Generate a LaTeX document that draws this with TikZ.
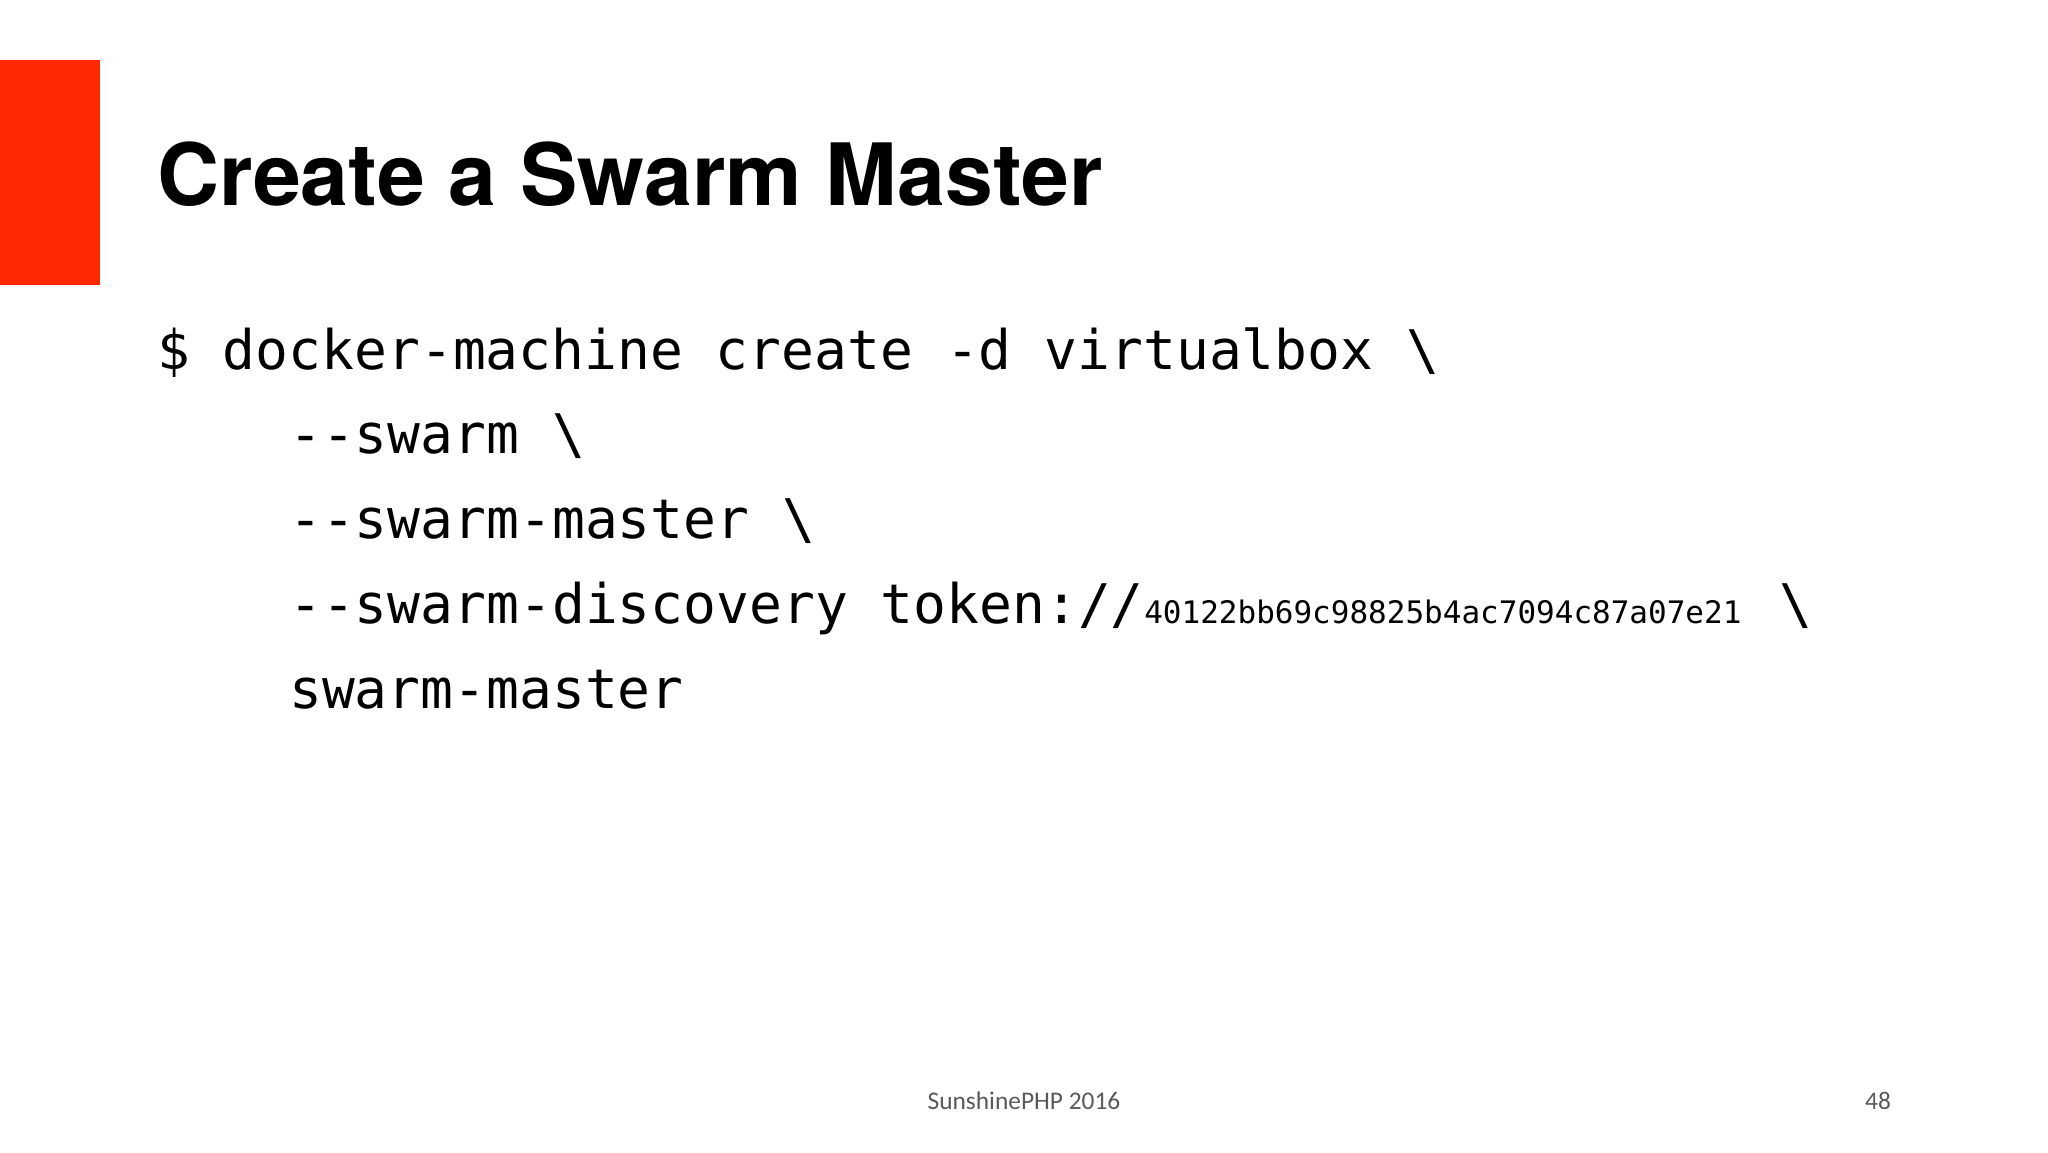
\documentclass[tikz,border=0pt]{standalone}
\usepackage{fontspec}
\setmainfont{Carlito}
\newfontfamily\titlefont{TeX Gyre Heros}
\newfontfamily\codefont{DejaVu Sans Mono}
\definecolor{slidered}{RGB}{255,40,0}
\begin{document}
\begin{tikzpicture}[x=1pt,y=1pt,
  code/.style={anchor=base west,inner sep=0pt,font=\codefont\fontsize{54.6}{60}\selectfont},
  foot/.style={anchor=base,inner sep=0pt,font=\fontsize{25.4}{28}\selectfont,text=black!65}]
\useasboundingbox (0,0) rectangle (2048,1152);
\fill[white] (0,0) rectangle (2048,1152);
\fill[slidered] (0,1152-60) rectangle (100,1152-285);
\node[anchor=base west,inner sep=0pt,font=\titlefont\bfseries\fontsize{86}{96}\selectfont] (title) at (157,1152-206) {Create a Swarm Master};
\node[code] (l1) at (157,1152-370) {\$ docker-machine create -d virtualbox \textbackslash};
\node[code] (l2) at (289,1152-454) {-{}-swarm \textbackslash};
\node[code] (l3) at (289,1152-539) {-{}-swarm-master \textbackslash};
\node[code] (l4) at (289,1152-624) {-{}-swarm-discovery token://};
\node[anchor=base west,inner sep=0pt,font=\codefont\fontsize{31}{34}\selectfont] (tok) at (l4.base east) {40122bb69c98825b4ac7094c87a07e21};
\node[code] (l4b) at (1779,1152-624) {\textbackslash};
\node[code] (l5) at (289,1152-709) {swarm-master};
\node[foot] (f1) at (1024,1152-1109) {SunshinePHP 2016};
\node[foot] (f2) at (1878,1152-1109) {48};
\end{tikzpicture}
\end{document}
